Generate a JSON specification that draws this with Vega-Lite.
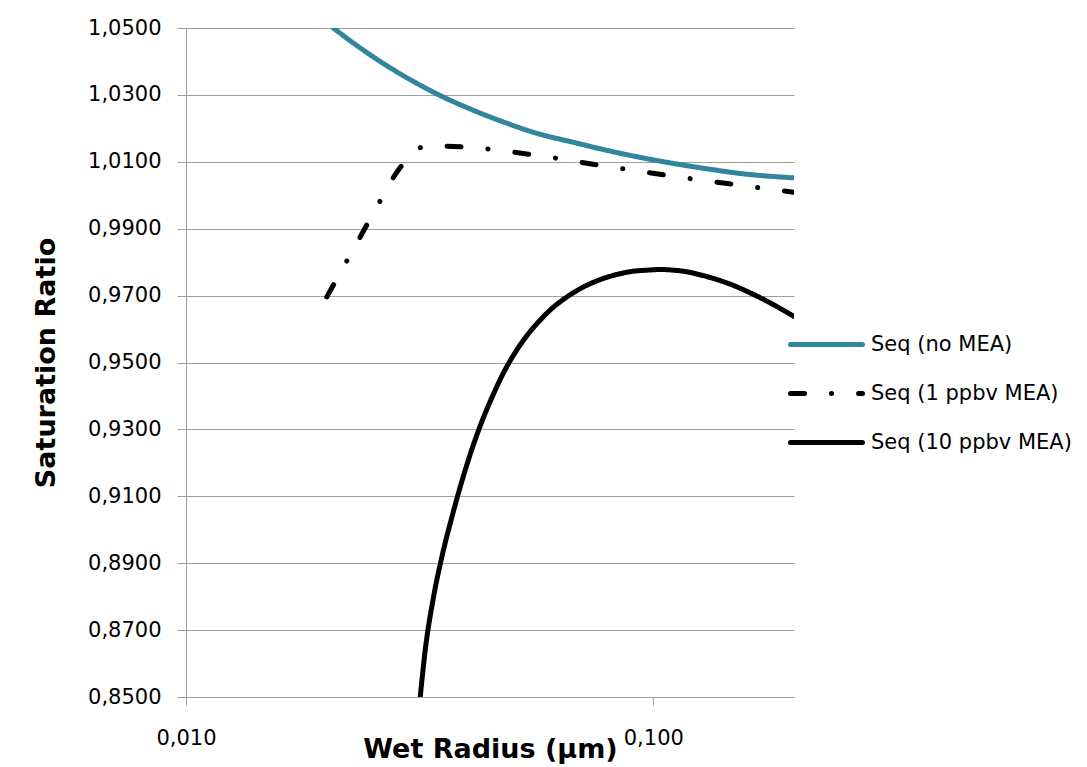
{
  "$schema": "https://vega.github.io/schema/vega-lite/v6.json",
  "autosize": "none",
  "width": 608,
  "height": 669,
  "padding": {"left": 186, "top": 28, "right": 293, "bottom": 70},
  "background": "white",
  "config": {
    "view": {"stroke": null},
    "font": "DejaVu Sans",
    "axis": {"labelFont": "DejaVu Sans", "titleFont": "DejaVu Sans", "labelColor": "#000000", "titleColor": "#000000"}
  },
  "data": {
    "values": [
      {"series": "Seq (no MEA)", "r": 0.02066, "S": 1.0500},
      {"series": "Seq (no MEA)", "r": 0.02281, "S": 1.0455},
      {"series": "Seq (no MEA)", "r": 0.02691, "S": 1.0387},
      {"series": "Seq (no MEA)", "r": 0.03171, "S": 1.0329},
      {"series": "Seq (no MEA)", "r": 0.03442, "S": 1.0303},
      {"series": "Seq (no MEA)", "r": 0.04055, "S": 1.0258},
      {"series": "Seq (no MEA)", "r": 0.04779, "S": 1.0219},
      {"series": "Seq (no MEA)", "r": 0.05636, "S": 1.0185},
      {"series": "Seq (no MEA)", "r": 0.06751, "S": 1.0158},
      {"series": "Seq (no MEA)", "r": 0.07962, "S": 1.0134},
      {"series": "Seq (no MEA)", "r": 0.09381, "S": 1.0113},
      {"series": "Seq (no MEA)", "r": 0.1105, "S": 1.0095},
      {"series": "Seq (no MEA)", "r": 0.1303, "S": 1.0079},
      {"series": "Seq (no MEA)", "r": 0.1536, "S": 1.0065},
      {"series": "Seq (no MEA)", "r": 0.1997, "S": 1.0052},
      {"series": "Seq (1 ppbv MEA)", "r": 0.02001, "S": 0.9696},
      {"series": "Seq (1 ppbv MEA)", "r": 0.02226, "S": 0.9812},
      {"series": "Seq (1 ppbv MEA)", "r": 0.02359, "S": 0.9875},
      {"series": "Seq (1 ppbv MEA)", "r": 0.02486, "S": 0.9933},
      {"series": "Seq (1 ppbv MEA)", "r": 0.02633, "S": 0.9995},
      {"series": "Seq (1 ppbv MEA)", "r": 0.02817, "S": 1.0066},
      {"series": "Seq (1 ppbv MEA)", "r": 0.02992, "S": 1.0112},
      {"series": "Seq (1 ppbv MEA)", "r": 0.03139, "S": 1.0139},
      {"series": "Seq (1 ppbv MEA)", "r": 0.03303, "S": 1.0148},
      {"series": "Seq (1 ppbv MEA)", "r": 0.03730, "S": 1.0146},
      {"series": "Seq (1 ppbv MEA)", "r": 0.04158, "S": 1.0142},
      {"series": "Seq (1 ppbv MEA)", "r": 0.04680, "S": 1.0134},
      {"series": "Seq (1 ppbv MEA)", "r": 0.05268, "S": 1.0125},
      {"series": "Seq (1 ppbv MEA)", "r": 0.05871, "S": 1.0116},
      {"series": "Seq (1 ppbv MEA)", "r": 0.06607, "S": 1.0104},
      {"series": "Seq (1 ppbv MEA)", "r": 0.07816, "S": 1.0088},
      {"series": "Seq (1 ppbv MEA)", "r": 0.09300, "S": 1.0072},
      {"series": "Seq (1 ppbv MEA)", "r": 0.1101, "S": 1.0057},
      {"series": "Seq (1 ppbv MEA)", "r": 0.1314, "S": 1.0042},
      {"series": "Seq (1 ppbv MEA)", "r": 0.1554, "S": 1.0029},
      {"series": "Seq (1 ppbv MEA)", "r": 0.1846, "S": 1.0015},
      {"series": "Seq (1 ppbv MEA)", "r": 0.1994, "S": 1.0009},
      {"series": "Seq (10 ppbv MEA)", "r": 0.03171, "S": 0.8500},
      {"series": "Seq (10 ppbv MEA)", "r": 0.03250, "S": 0.8640},
      {"series": "Seq (10 ppbv MEA)", "r": 0.03386, "S": 0.8799},
      {"series": "Seq (10 ppbv MEA)", "r": 0.03528, "S": 0.8919},
      {"series": "Seq (10 ppbv MEA)", "r": 0.03707, "S": 0.9038},
      {"series": "Seq (10 ppbv MEA)", "r": 0.03895, "S": 0.9146},
      {"series": "Seq (10 ppbv MEA)", "r": 0.04091, "S": 0.9241},
      {"series": "Seq (10 ppbv MEA)", "r": 0.04263, "S": 0.9311},
      {"series": "Seq (10 ppbv MEA)", "r": 0.04550, "S": 0.9406},
      {"series": "Seq (10 ppbv MEA)", "r": 0.04779, "S": 0.9469},
      {"series": "Seq (10 ppbv MEA)", "r": 0.05022, "S": 0.9522},
      {"series": "Seq (10 ppbv MEA)", "r": 0.05453, "S": 0.9593},
      {"series": "Seq (10 ppbv MEA)", "r": 0.05728, "S": 0.9627},
      {"series": "Seq (10 ppbv MEA)", "r": 0.06017, "S": 0.9657},
      {"series": "Seq (10 ppbv MEA)", "r": 0.06533, "S": 0.9696},
      {"series": "Seq (10 ppbv MEA)", "r": 0.07092, "S": 0.9726},
      {"series": "Seq (10 ppbv MEA)", "r": 0.07700, "S": 0.9748},
      {"series": "Seq (10 ppbv MEA)", "r": 0.08363, "S": 0.9763},
      {"series": "Seq (10 ppbv MEA)", "r": 0.09074, "S": 0.9773},
      {"series": "Seq (10 ppbv MEA)", "r": 0.09694, "S": 0.9776},
      {"series": "Seq (10 ppbv MEA)", "r": 0.1035, "S": 0.9778},
      {"series": "Seq (10 ppbv MEA)", "r": 0.1105, "S": 0.9776},
      {"series": "Seq (10 ppbv MEA)", "r": 0.1181, "S": 0.9771},
      {"series": "Seq (10 ppbv MEA)", "r": 0.1260, "S": 0.9762},
      {"series": "Seq (10 ppbv MEA)", "r": 0.1369, "S": 0.9748},
      {"series": "Seq (10 ppbv MEA)", "r": 0.1486, "S": 0.9730},
      {"series": "Seq (10 ppbv MEA)", "r": 0.1613, "S": 0.9708},
      {"series": "Seq (10 ppbv MEA)", "r": 0.1796, "S": 0.9675},
      {"series": "Seq (10 ppbv MEA)", "r": 0.1997, "S": 0.9638}
    ]
  },
  "mark": {"type": "line", "interpolate": "monotone", "strokeWidth": 5, "strokeCap": "round", "clip": true},
  "encoding": {
    "x": {
      "field": "r",
      "type": "quantitative",
      "scale": {"type": "log", "domain": [0.01, 0.2], "nice": false},
      "axis": {
        "title": "Wet Radius (µm)",
        "titleFontSize": 27,
        "titleFontWeight": "bold",
        "titleY": 60,
        "titleBaseline": "alphabetic",
        "values": [0.01, 0.1],
        "labelExpr": "replace(format(datum.value, '.3f'), '.', ',')",
        "labelFontSize": 21,
        "labelPadding": 22,
        "tickSize": 8,
        "tickColor": "#a0a0a0",
        "domainColor": "#a0a0a0",
        "grid": false,
        "labelFlush": false
      }
    },
    "y": {
      "field": "S",
      "type": "quantitative",
      "scale": {"domain": [0.85, 1.05], "nice": false, "zero": false},
      "axis": {
        "title": "Saturation Ratio",
        "titleFontSize": 27,
        "titleFontWeight": "bold",
        "titleX": -132,
        "titleBaseline": "alphabetic",
        "values": [0.85, 0.87, 0.89, 0.91, 0.93, 0.95, 0.97, 0.99, 1.01, 1.03, 1.05],
        "labelExpr": "replace(format(datum.value, '.4f'), '.', ',')",
        "labelFontSize": 21,
        "labelPadding": 16,
        "tickSize": 9,
        "tickColor": "#a0a0a0",
        "domainColor": "#a0a0a0",
        "grid": true,
        "gridColor": "#a0a0a0",
        "gridWidth": 1,
        "labelFlush": false
      }
    },
    "color": {
      "field": "series",
      "type": "nominal",
      "scale": {"domain": ["Seq (no MEA)", "Seq (1 ppbv MEA)", "Seq (10 ppbv MEA)"], "range": ["#31859c", "#000000", "#000000"]},
      "legend": {
        "title": null,
        "orient": "none",
        "legendX": 602,
        "legendY": 278,
        "symbolType": "stroke",
        "symbolSize": 5184,
        "symbolStrokeWidth": 5,
        "labelFontSize": 21,
        "labelFont": "DejaVu Sans",
        "labelColor": "#000000",
        "labelLimit": 300,
        "labelOffset": 6,
        "rowPadding": 0,
        "padding": 0,
        "encode": {"symbols": {"update": {"strokeCap": {"value": "round"}}}}
      }
    },
    "strokeDash": {
      "field": "series",
      "type": "nominal",
      "scale": {"domain": ["Seq (no MEA)", "Seq (1 ppbv MEA)", "Seq (10 ppbv MEA)"], "range": [[1, 0], [14, 27, 0.1, 27], [1, 0]]},
      "legend": {
        "title": null,
        "orient": "none",
        "legendX": 602,
        "legendY": 278,
        "symbolType": "stroke",
        "symbolSize": 5184,
        "symbolStrokeWidth": 5,
        "labelFontSize": 21,
        "labelFont": "DejaVu Sans",
        "labelColor": "#000000",
        "labelLimit": 300,
        "labelOffset": 6,
        "rowPadding": 0,
        "padding": 0,
        "encode": {"symbols": {"update": {"strokeCap": {"value": "round"}}}}
      }
    }
  }
}
